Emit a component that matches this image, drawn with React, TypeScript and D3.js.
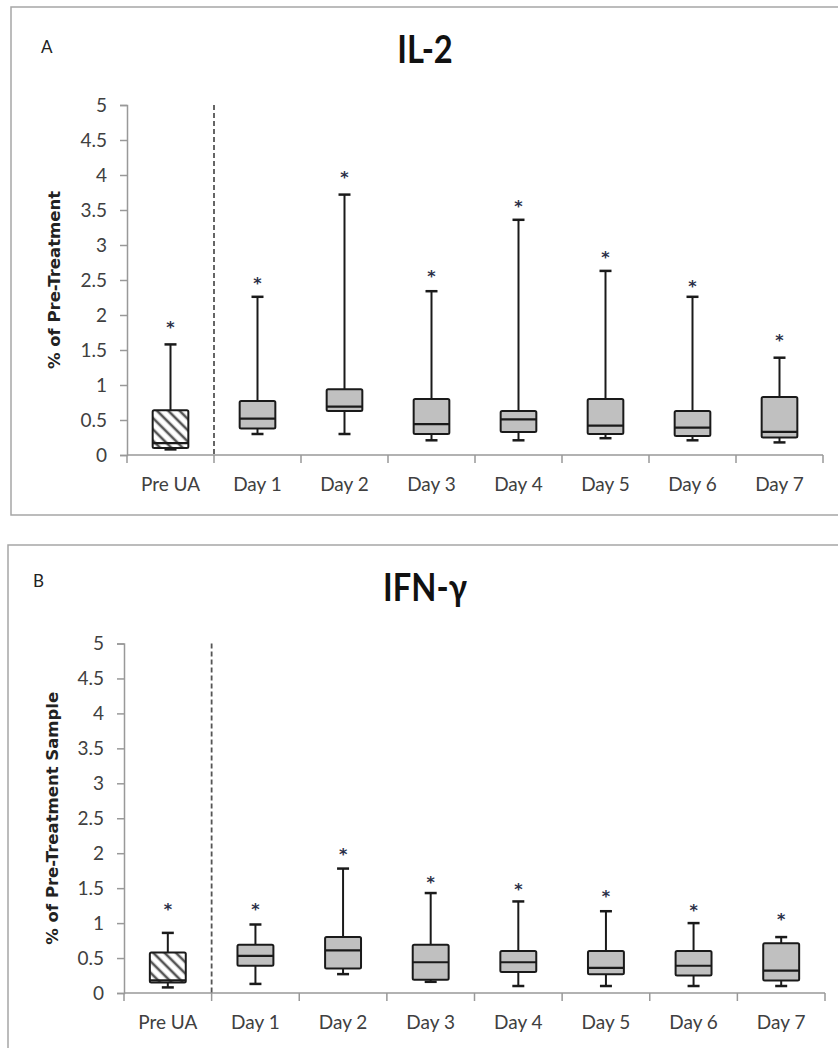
import React, { useEffect, useRef } from "react";
import * as d3 from "d3";

// categories along the x axis
const categories = ["Pre UA", "Day 1", "Day 2", "Day 3", "Day 4", "Day 5", "Day 6", "Day 7"];
const yTicks = [0, 0.5, 1, 1.5, 2, 2.5, 3, 3.5, 4, 4.5, 5];

// IL-2 box values (whisker low, q1, median, q3, whisker high, asterisk)
const il2Low = [0.08, 0.3, 0.3, 0.21, 0.21, 0.24, 0.21, 0.18];
const il2Q1 = [0.1, 0.38, 0.63, 0.3, 0.33, 0.3, 0.27, 0.25];
const il2Median = [0.17, 0.52, 0.69, 0.44, 0.51, 0.42, 0.39, 0.33];
const il2Q3 = [0.64, 0.77, 0.94, 0.8, 0.63, 0.8, 0.63, 0.83];
const il2High = [1.58, 2.26, 3.72, 2.34, 3.36, 2.63, 2.26, 1.39];
const il2Star = [1.89, 2.51, 4.03, 2.62, 3.62, 2.88, 2.47, 1.7];

// IFN-γ box values
const ifnLow = [0.08, 0.13, 0.27, 0.16, 0.1, 0.1, 0.1, 0.1];
const ifnQ1 = [0.15, 0.39, 0.35, 0.19, 0.3, 0.27, 0.25, 0.18];
const ifnMedian = [0.18, 0.53, 0.61, 0.44, 0.44, 0.36, 0.39, 0.32];
const ifnQ3 = [0.58, 0.69, 0.8, 0.69, 0.6, 0.6, 0.6, 0.71];
const ifnHigh = [0.86, 0.98, 1.78, 1.43, 1.31, 1.17, 1.0, 0.8];
const ifnStar = [1.26, 1.26, 2.04, 1.64, 1.54, 1.45, 1.25, 1.11];

const tickFont = "Lato, 'Open Sans', sans-serif";
const boldFont = "'DejaVu Sans', Verdana, sans-serif";

function drawPanel(svg: any, cfg: any) {
  const g = svg.append("g");

  // frame
  g.append("rect")
    .attr("x", cfg.frame[0])
    .attr("y", cfg.frame[1])
    .attr("width", cfg.frame[2])
    .attr("height", cfg.frame[3])
    .attr("fill", "#fff")
    .attr("stroke", "#a6a6a6")
    .attr("stroke-width", 1.5);

  const x = d3.scaleBand().domain(categories).range([cfg.left, cfg.right]).paddingInner(0).paddingOuter(0);
  const y = d3.scaleLinear().domain([0, 5]).range([cfg.bottom, cfg.top]);
  const bw = x.bandwidth();

  // panel letter + title
  g.append("text")
    .attr("x", cfg.letterPos[0])
    .attr("y", cfg.letterPos[1])
    .style("font-family", tickFont)
    .style("font-size", "17px")
    .style("fill", "#222")
    .text(cfg.letter);

  g.append("text")
    .attr("transform", `translate(425,${cfg.titleY}) scale(0.86,1)`)
    .attr("text-anchor", "middle")
    .style("font-family", tickFont)
    .style("font-weight", "bold")
    .style("font-size", "38px")
    .style("fill", "#111")
    .text(cfg.title);

  // y axis
  const yAxis = d3.axisLeft(y).tickValues(yTicks).tickSize(7).tickPadding(13).tickFormat((d: any) => String(d));
  const ya = g.append("g").attr("transform", `translate(${cfg.left},0)`).call(yAxis);
  ya.select(".domain").attr("stroke", "#999").attr("stroke-width", 1.5);
  ya.selectAll(".tick line").attr("stroke", "#999").attr("stroke-width", 1.5);
  ya.selectAll(".tick text")
    .style("font-family", tickFont)
    .style("font-size", "19px")
    .style("fill", "#404040");

  g.append("text")
    .attr("transform", `translate(${cfg.yTitleX},${(cfg.top + cfg.bottom) / 2}) rotate(-90)`)
    .attr("text-anchor", "middle")
    .style("font-family", boldFont)
    .style("font-weight", "bold")
    .style("font-size", "16.5px")
    .style("fill", "#222")
    .text(cfg.yTitle);

  // x axis (ticks at band boundaries)
  g.append("line")
    .attr("x1", cfg.left)
    .attr("x2", cfg.right)
    .attr("y1", cfg.bottom)
    .attr("y2", cfg.bottom)
    .attr("stroke", "#999")
    .attr("stroke-width", 1.5);
  const bounds = categories.map((c) => x(c) as number).concat([cfg.right]);
  g.selectAll(".xtick")
    .data(bounds)
    .enter()
    .append("line")
    .attr("x1", (d: number) => d)
    .attr("x2", (d: number) => d)
    .attr("y1", cfg.bottom)
    .attr("y2", cfg.bottom + 8)
    .attr("stroke", "#999")
    .attr("stroke-width", 1.5);
  g.selectAll(".xlabel")
    .data(categories)
    .enter()
    .append("text")
    .attr("x", (d: string) => (x(d) as number) + bw / 2)
    .attr("y", cfg.xLabelY)
    .attr("text-anchor", "middle")
    .style("font-family", tickFont)
    .style("font-size", "19px")
    .style("fill", "#404040")
    .text((d: string) => d);

  // dashed separator
  g.append("line")
    .attr("x1", x("Day 1") as number)
    .attr("x2", x("Day 1") as number)
    .attr("y1", cfg.top)
    .attr("y2", cfg.bottom)
    .attr("stroke", "#555")
    .attr("stroke-width", 1.8)
    .attr("stroke-dasharray", "5,3");

  // boxes
  const rows = categories.map((c, i) => ({
    c,
    lo: cfg.low[i],
    q1: cfg.q1[i],
    med: cfg.med[i],
    q3: cfg.q3[i],
    hi: cfg.high[i],
    star: cfg.star[i],
  }));
  const boxW = bw * 0.41;
  const capW = 12;
  const box = g
    .selectAll(".box")
    .data(rows)
    .enter()
    .append("g")
    .attr("transform", (d: any) => `translate(${(x(d.c) as number) + bw / 2},0)`);

  box.append("line")
    .attr("y1", (d: any) => y(d.hi))
    .attr("y2", (d: any) => y(d.lo))
    .attr("stroke", "#1a1a1a")
    .attr("stroke-width", 2);
  box.append("line")
    .attr("x1", -capW / 2)
    .attr("x2", capW / 2)
    .attr("y1", (d: any) => y(d.hi))
    .attr("y2", (d: any) => y(d.hi))
    .attr("stroke", "#1a1a1a")
    .attr("stroke-width", 2.5);
  box.append("line")
    .attr("x1", -capW / 2)
    .attr("x2", capW / 2)
    .attr("y1", (d: any) => y(d.lo))
    .attr("y2", (d: any) => y(d.lo))
    .attr("stroke", "#1a1a1a")
    .attr("stroke-width", 2.5);
  box.append("rect")
    .attr("x", -boxW / 2)
    .attr("width", boxW)
    .attr("y", (d: any) => y(d.q3))
    .attr("height", (d: any) => y(d.q1) - y(d.q3))
    .attr("rx", 1.5)
    .attr("fill", (d: any, i: number) => (i === 0 ? `url(#hatch-${cfg.letter})` : "#c0c0c0"))
    .attr("stroke", "#1a1a1a")
    .attr("stroke-width", 2);
  box.append("line")
    .attr("x1", -boxW / 2)
    .attr("x2", boxW / 2)
    .attr("y1", (d: any) => y(d.med))
    .attr("y2", (d: any) => y(d.med))
    .attr("stroke", "#1a1a1a")
    .attr("stroke-width", 2.2);
  box.append("text")
    .attr("y", (d: any) => y(d.star) + 10)
    .attr("text-anchor", "middle")
    .style("font-family", boldFont)
    .style("font-weight", "bold")
    .style("font-size", "16px")
    .style("fill", "#2b3048")
    .text("*");
}

export default function App() {
  const ref = useRef<SVGSVGElement>(null);

  useEffect(() => {
    const svg = d3.select(ref.current);
    svg.selectAll("*").remove();

    const defs = svg.append("defs");
    ["A", "B"].forEach((k) => {
      const p = defs
        .append("pattern")
        .attr("id", "hatch-" + k)
        .attr("patternUnits", "userSpaceOnUse")
        .attr("width", 8)
        .attr("height", 8)
        .attr("patternTransform", "rotate(-45)");
      p.append("rect").attr("width", 8).attr("height", 8).attr("fill", "#fff");
      p.append("line").attr("x1", 4).attr("x2", 4).attr("y1", 0).attr("y2", 8).attr("stroke", "#555").attr("stroke-width", 2.6);
    });

    drawPanel(svg, {
      letter: "A",
      title: "IL-2",
      yTitle: "% of Pre-Treatment",
      frame: [11, 7, 840, 508],
      left: 127,
      right: 823,
      top: 105,
      bottom: 455,
      letterPos: [41, 53],
      titleY: 63,
      yTitleX: 60,
      xLabelY: 491,
      low: il2Low,
      q1: il2Q1,
      med: il2Median,
      q3: il2Q3,
      high: il2High,
      star: il2Star,
    });

    drawPanel(svg, {
      letter: "B",
      title: "IFN-γ",
      yTitle: "% of Pre-Treatment Sample",
      frame: [8, 545, 840, 520],
      left: 124,
      right: 825,
      top: 643.5,
      bottom: 993,
      letterPos: [33, 587],
      titleY: 601,
      yTitleX: 58,
      xLabelY: 1029,
      low: ifnLow,
      q1: ifnQ1,
      med: ifnMedian,
      q3: ifnQ3,
      high: ifnHigh,
      star: ifnStar,
    });
  }, []);

  return (
    <svg
      ref={ref}
      width={838}
      height={1048}
      style={{ position: "absolute", left: 0, top: 0, background: "#fff" }}
    />
  );
}
